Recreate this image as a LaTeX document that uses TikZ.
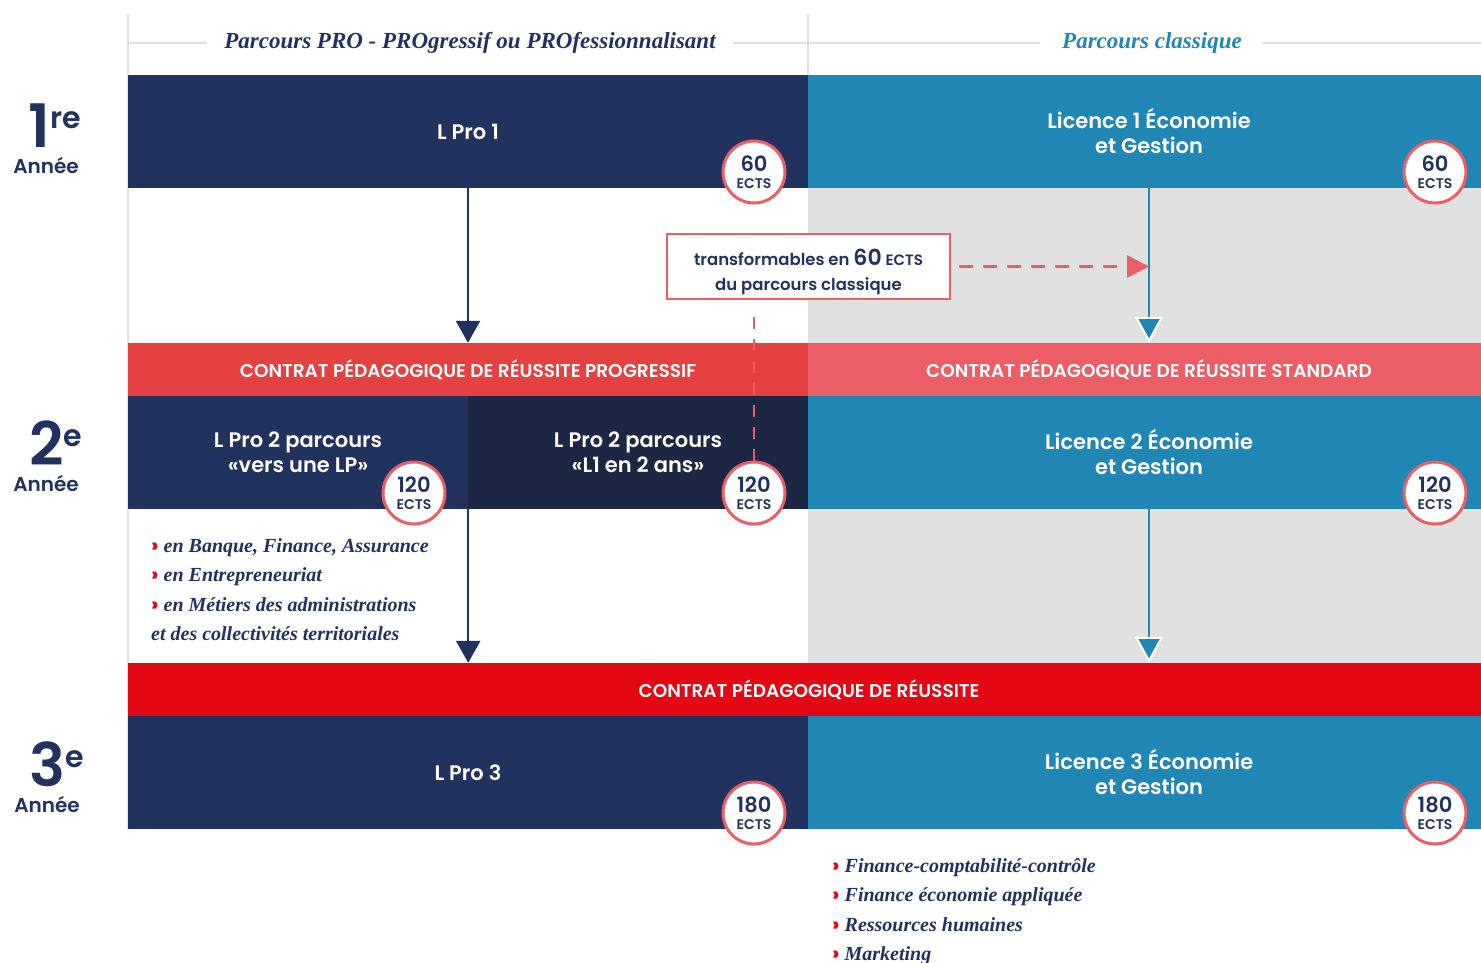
\documentclass[tikz,border=0pt]{standalone}
\usepackage{fontspec}
\usepackage{tikz}
\usetikzlibrary{shapes}
\usetikzlibrary{arrows.meta}
\usetikzlibrary{positioning}
\usetikzlibrary{calc}
\setmainfont{Liberation Serif}
\IfFontExistsTF{Poppins Medium}{\newfontfamily\pop{Poppins Medium}}{\newfontfamily\pop{Poppins}[FakeBold=0.8]}
\IfFontExistsTF{Poppins SemiBold}{\newfontfamily\popb{Poppins SemiBold}}{\newfontfamily\popb{Poppins}[FakeBold=1.4]}
\definecolor{marine}{HTML}{22325F}
\definecolor{marinefonce}{HTML}{1C2744}
\definecolor{bleu}{HTML}{2086B4}
\definecolor{rouge1}{HTML}{E54141}
\definecolor{rouge2}{HTML}{EC5D66}
\definecolor{rouge3}{HTML}{E30613}
\definecolor{grisfond}{HTML}{E1E1E1}
\definecolor{grisligne}{HTML}{DEDEDE}
\newcommand{\chevron}{\textcolor{rouge3}{\upshape\popb ›}\ }
\tikzstyle{titre}=[inner sep=0pt,font=\bfseries\itshape\fontsize{23}{23}\selectfont]
\tikzstyle{bloc}=[rectangle,inner sep=0pt,text=white,align=center,
        minimum height=113pt,font=\popb\fontsize{21}{25}\selectfont]
\tikzstyle{bande}=[rectangle,inner sep=0pt,text=white,minimum height=53pt,
        font=\popb\fontsize{18.5}{20}\selectfont]
\tikzstyle{pastille}=[circle,draw=rouge2,line width=3pt,fill=white,minimum size=62pt,
        inner sep=0pt,align=center,text=marine,font=\popb\fontsize{21}{20}\selectfont]
\tikzstyle{annee}=[inner sep=0pt,text=marine,font=\popb\fontsize{20}{20}\selectfont]
\tikzstyle{rang}=[inner sep=0pt,text=marine,font=\popb\fontsize{60}{60}\selectfont]
\tikzstyle{liste}=[inner sep=0pt,align=left,text=marine,
        font=\bfseries\itshape\fontsize{20}{29.5}\selectfont]
\tikzstyle{suite}=[-{Triangle[width=24pt,length=22pt]},line width=2.5pt,draw=marine]
\tikzstyle{suitebleu}=[-{Triangle[width=28pt,length=26pt,fill=bleu,color=white,line width=2pt]},
        line width=2.5pt,draw=bleu]
\tikzstyle{pointilles}=[-{Triangle[width=22pt,length=22pt]},line width=2.5pt,draw=rouge2,
        dash pattern=on 14pt off 10pt]
\newcommand{\ects}[1]{#1\\[-3pt]{\fontsize{14}{14}\selectfont ECTS}}

\begin{document}
\begin{tikzpicture}[x=1pt,y=-1pt]
\useasboundingbox (0,0) rectangle (1481,962);
% fonds et filets
\fill[grisfond] (808,188) rectangle (1490,343);
\fill[grisfond] (808,509) rectangle (1490,663);
\draw[grisligne,line width=2pt] (128,14) -- (128,829);
\draw[grisligne,line width=2pt] (808,14) -- (808,75);
\draw[grisligne,line width=2pt] (128,43) -- (207,43);
\draw[grisligne,line width=2pt] (733,43) -- (1040,43);
\draw[grisligne,line width=2pt] (1262,43) -- (1490,43);
\node[titre,text=marine] (tpro) at (470,43) {Parcours PRO - PROgressif ou PROfessionnalisant};
\node[titre,text=bleu] (tclass) at (1152,43) {Parcours classique};
% annees
\node[rang,anchor=base] (r1) at (55,147) {1\raisebox{19pt}{\fontsize{30}{30}\selectfont re}};
\node[annee,anchor=base] (a1) at (46,173) {Année};
\node[rang,anchor=base] (r2) at (56,465) {2\raisebox{19pt}{\fontsize{30}{30}\selectfont e}};
\node[annee,anchor=base] (a2) at (46,491) {Année};
\node[rang,anchor=base] (r3) at (57,786) {3\raisebox{19pt}{\fontsize{30}{30}\selectfont e}};
\node[annee,anchor=base] (a3) at (47,812) {Année};
% premiere annee
\node[bloc,fill=marine,minimum width=680pt] (lpro1) at (468,131.5) {L Pro 1};
\node[bloc,fill=bleu,minimum width=682pt] (lic1) at (1149,131.5) {Licence 1 Économie\\et Gestion};
\node[bande,fill=rouge1,minimum width=680pt] (cpro) at (468,369.5) {CONTRAT PÉDAGOGIQUE DE RÉUSSITE PROGRESSIF};
\node[bande,fill=rouge2,minimum width=682pt] (cstd) at (1149,369.5) {CONTRAT PÉDAGOGIQUE DE RÉUSSITE STANDARD};
% deuxieme annee
\node[bloc,fill=marine,minimum width=340pt] (lpro2a) at (298,452.5) {L Pro 2 parcours\\«vers une LP»};
\node[bloc,fill=marinefonce,minimum width=340pt] (lpro2b) at (638,452.5) {L Pro 2 parcours\\«L1 en 2 ans»};
\node[bloc,fill=bleu,minimum width=682pt] (lic2) at (1149,452.5) {Licence 2 Économie\\et Gestion};
\node[bande,fill=rouge3,minimum width=1362pt] (creu) at (809,689.5) {CONTRAT PÉDAGOGIQUE DE RÉUSSITE};
% troisieme annee
\node[bloc,fill=marine,minimum width=680pt] (lpro3) at (468,772.5) {L Pro 3};
\node[bloc,fill=bleu,minimum width=682pt] (lic3) at (1149,772.5) {Licence 3 Économie\\et Gestion};
% listes
\node[liste,anchor=north west] (lpro2l) at (151,538) {\chevron en Banque, Finance, Assurance\\
\chevron en Entrepreneuriat\\
\chevron en Métiers des administrations\\
et des collectivités territoriales};
\node[liste,anchor=north west] (lic3l) at (832,858) {\chevron Finance-comptabilité-contrôle\\
\chevron Finance économie appliquée\\
\chevron Ressources humaines\\
\chevron Marketing};
% fleches
\draw[suite] (lpro1) -- (cpro);
\draw[suite] (lpro2a.south east) -- (lpro2a.south east |- creu.north);
\draw[suitebleu] (lic1) -- (cstd);
\draw[suitebleu] (lic2) -- (lic2 |- creu.north);
% pastilles
\node[pastille] (e1a) at (754,172) {\ects{60}};
\node[pastille] (e1b) at (1435,172) {\ects{60}};
\node[pastille] (e2a) at (414,493) {\ects{120}};
\node[pastille] (e2b) at (754,493) {\ects{120}};
\node[pastille] (e2c) at (1435,493) {\ects{120}};
\node[pastille] (e3a) at (754,813) {\ects{180}};
\node[pastille] (e3b) at (1435,813) {\ects{180}};
% passerelle
\node[rectangle,draw=rouge2,line width=2.5pt,fill=white,minimum width=283pt,minimum height=65pt]
      (transf) at (808.5,266.5) {};
\node[align=center,text=marine,inner sep=0pt,font=\popb\fontsize{16.5}{25}\selectfont]
      (transftxt) at ([yshift=-5pt]transf.center)
      {transformables en {\fontsize{22}{22}\selectfont 60} {\fontsize{15}{15}\selectfont ECTS}\\du parcours classique};
\draw[pointilles] ([xshift=8pt]transf.east) -- (transf.east -| lic1.south);
\draw[rouge2,line width=2.5pt,dash pattern=on 12pt off 10pt] ([yshift=-17pt]transf.south -| e2b) -- (e2b.north);
\end{tikzpicture}
\end{document}
